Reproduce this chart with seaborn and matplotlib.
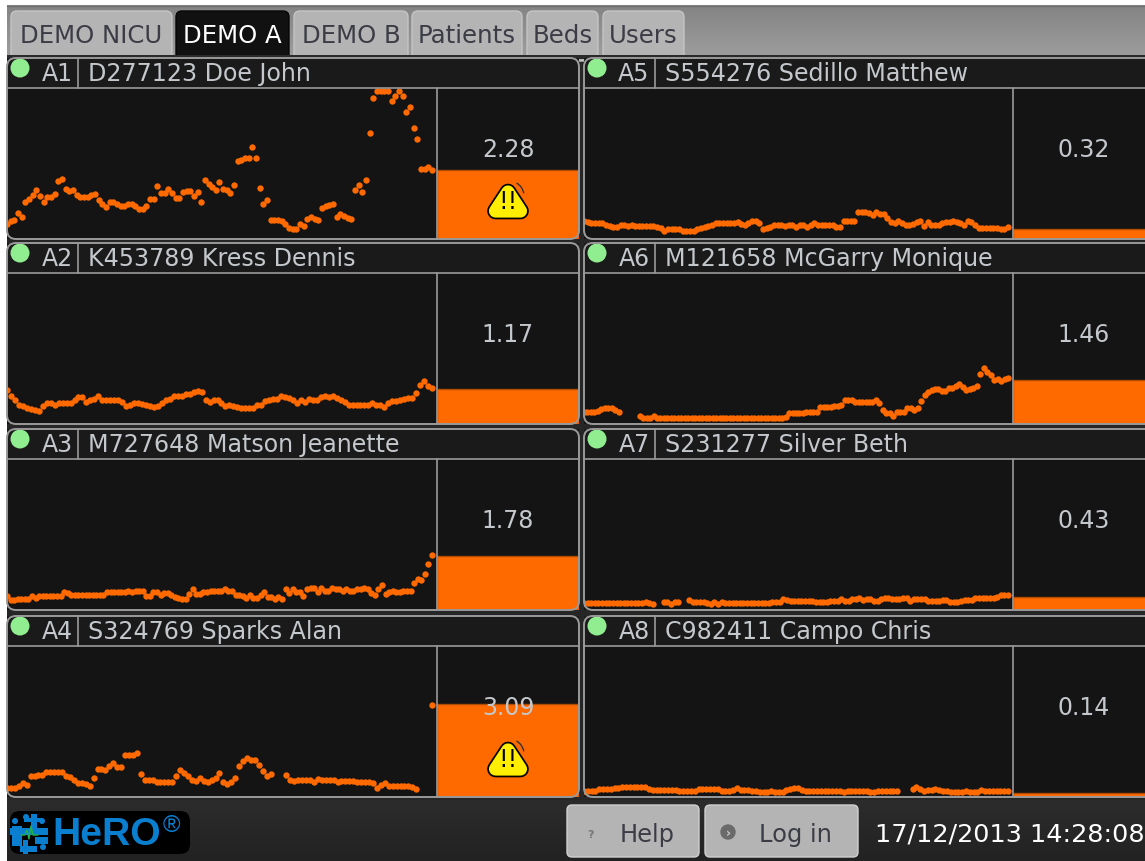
import numpy as np
import pandas as pd
import matplotlib
matplotlib.use('Agg')
import matplotlib.pyplot as plt
import seaborn as sns
from matplotlib.patches import FancyBboxPatch, Polygon, Circle, Arc, Rectangle

beds = ['A1', 'A2', 'A3', 'A4', 'A5', 'A6', 'A7', 'A8']
patients = ['D277123 Doe John', 'K453789 Kress Dennis', 'M727648 Matson Jeanette', 'S324769 Sparks Alan',
            'S554276 Sedillo Matthew', 'M121658 McGarry Monique', 'S231277 Silver Beth', 'C982411 Campo Chris']
scores = [2.28, 1.17, 1.78, 3.09, 0.32, 1.46, 0.43, 0.14]
tabs = ['DEMO NICU', 'DEMO A', 'DEMO B', 'Patients', 'Beds', 'Users']
clock = '17/12/2013 14:28:08'
alert_limit = 2.0

trend_a1 = [.50, .58, .63, .86, .74, 1.24, 1.32, 1.47, 1.61, 1.41, 1.21, 1.39, 1.39, 1.49, 1.91, 1.99, 1.66, 1.58, 1.61,
            1.47, 1.39, 1.38, 1.38, 1.47, 1.50, 1.30, 1.17, 1.06, 1.21, 1.24, 1.17, 1.10, 1.08, 1.17, 1.17, 1.10, .99,
            .99, 1.08, 1.32, 1.32, 1.74, 1.52, 1.52, 1.66, 1.52, 1.37, 1.37, 1.54, 1.58, 1.58, 1.41, 1.54, 1.21, 1.94,
            1.83, 1.72, 1.61, 1.90, 1.67, 1.61, 1.52, 1.79, 2.59, 2.61, 2.68, 2.68, 3.04, 2.67, 1.69, 1.17, 1.29, .63,
            .63, .63, .58, .49, .38, .32, .34, .50, .43, .67, .72, .67, .63, 1.02, 1.10, 1.13, 1.17, .72, .83, .77, .71,
            .67, 1.61, 1.78, 1.56, 1.97, 3.52, 4.68, 4.91, 4.91, 4.91, 4.91, 4.58, 4.72, 4.91, 4.72, 4.19, 4.36, 3.66,
            3.32, 2.33, 2.33, 2.38, 2.29]
trend_a2 = [1.14, .92, .81, .64, .59, .53, .50, .48, .44, .59, .68, .68, .62, .70, .70, .70, .70, .79, .89, .90, .72, .81,
            .84, .92, .79, .79, .79, .79, .79, .72, .61, .64, .70, .68, .66, .62, .61, .57, .59, .70, .81, .84, .92, .94,
            .94, 1.00, .98, 1.06, 1.09, 1.06, .79, .72, .79, .81, .68, .59, .64, .59, .57, .52, .52, .52, .53, .64, .64,
            .76, .79, .83, .83, .92, .90, .87, .79, .70, .81, .73, .83, .79, .79, .90, .92, .90, .92, .87, .81, .72, .62,
            .62, .62, .62, .62, .62, .68, .64, .62, .56, .70, .76, .76, .79, .83, .87, .87, 1.03, 1.28, 1.42, 1.26, 1.18]
trend_a3 = [.48, .33, .33, .37, .37, .37, .37, .46, .39, .46, .46, .46, .46, .46, .46, .46, .61, .57, .51, .51, .51, .51,
            .51, .51, .51, .51, .51, .51, .61, .61, .61, .61, .61, .61, .64, .59, .63, .63, .63, .46, .46, .61, .61, .51,
            .57, .57, .51, .42, .40, .37, .37, .53, .68, .53, .53, .59, .59, .64, .64, .64, .64, .68, .64, .64, .51, .51,
            .46, .40, .51, .40, .40, .51, .61, .42, .42, .37, .42, .37, .68, .57, .68, .59, .59, .46, .68, .72, .72, .61,
            .72, .63, .63, .72, .68, .68, .63, .68, .63, .63, .68, .68, .72, .68, .57, .51, .70, .83, .53, .59, .63, .59,
            .59, .63, .63, .63, .91, 1.03, .98, 1.20, 1.53, 1.81]
trend_a4 = [.31, .31, .31, .38, .46, .40, .71, .68, .73, .73, .84, .84, .84, .82, .82, .71, .66, .57, .48, .48, .43, .37,
            .64, .93, .93, .90, 1.01, 1.14, .98, .98, 1.39, 1.39, 1.39, 1.46, .77, .57, .57, .57, .49, .49, .49, .49, .49,
            .70, .90, .79, .68, .57, .54, .62, .53, .49, .57, .62, .79, .49, .43, .49, .64, 1.01, 1.18, 1.29, 1.21, 1.23,
            1.07, .87, .70, .76, None, None, None, .73, .57, .52, .57, .57, .57, .57, .49, .60, .57, .57, .57, .57, .49,
            .52, .52, .52, .54, .50, .50, .50, .50, .48, .31, .40, .46, .38, .38, .38, .38, .38, .38, .34, .27, None, None,
            None, 3.06]
trend_a5 = [.61, .57, .52, .52, .52, .52, .48, .43, .40, .40, .47, .47, .43, .48, .43, .43, .43, .43, .43, .43, .39, .36,
            .28, .32, .32, .32, .32, .28, .28, .28, .28, .32, .36, .39, .43, .48, .52, .52, .52, .52, .52, .52, .57, .50,
            .46, .52, .59, .61, .54, .32, .36, .39, .48, .48, .48, .43, .48, .48, .41, .46, .46, .41, .48, .52, .48, .48,
            .48, .48, .48, .41, .41, .59, .59, .59, .59, .90, .90, .90, .86, .80, .88, .83, .83, .69, .56, .52, .59, .54,
            .46, .46, .50, .57, .61, .43, .57, .48, .48, .48, .52, .56, .56, .60, .57, .54, .48, .61, .56, .48, .38, .38,
            .38, .38, .38, .38, .33, .34, .39]
trend_a6 = [.39, .39, .39, .39, .44, .50, .54, .54, .54, .47, .39, None, None, None, None, None, .28, .19, .19, .19, .26,
            .20, .20, .20, .20, .20, .20, .20, .20, .20, .20, .20, .20, .20, .20, .20, .20, .20, .20, .20, .20, .20, .20,
            .20, .20, .20, .20, .20, .20, .20, .20, .20, .20, .20, .20, .20, .20, .20, .24, .36, .36, .36, .36, .36, .40,
            .40, .40, .40, .56, .56, .56, .56, .60, .60, .64, .81, .78, .78, .72, .72, .72, .72, .72, .72, .78, .71, .48,
            .36, .36, .27, .39, .39, .39, .53, .53, .47, .52, .76, .97, 1.06, 1.11, 1.16, 1.16, 1.09, 1.09, 1.18, 1.18,
            1.26, 1.34, 1.22, 1.11, 1.17, 1.20, 1.26, 1.67, 1.84, 1.72, 1.62, 1.47, 1.50, 1.44, 1.50, 1.51]
trend_a7 = [.22, .22, .22, .22, .22, .22, .22, .22, .22, .22, .22, .22, .22, .22, .22, .22, .22, .27, .23, .21, None,
            None, .26, .26, .21, .26, .27, None, None, .32, .28, .28, .28, .28, .22, .20, .26, .20, .27, .22, .22, .22,
            .22, .22, .22, .22, .22, .22, .22, .22, .22, .22, .27, .27, .27, .37, .33, .31, .31, .31, .31, .31, .31, .31,
            .27, .27, .27, .27, .31, .31, .31, .36, .31, .31, .36, .36, .40, .32, .36, .36, .29, .29, .36, .41, .41, .36,
            .36, .36, .40, .40, .31, .37, .37, .37, .37, .29, .29, .29, .29, .32, .32, .28, .28, .28, .31, .34, .34, .34,
            .40, .40, .40, .40, .40, .40, .44, .50, .50, .50]
trend_a8 = [.20, .20, .20, .20, .26, .26, .26, .26, .29, .29, .32, .32, .32, .32, .32, .32, .32, .27, .24, .24, .24, .24,
            .24, .24, .24, .21, .21, .21, .21, .21, .26, .26, .26, .26, .26, .26, .21, .21, .21, .22, .29, .24, .24, .24,
            .21, .21, .16, .16, .16, .21, .17, .17, .18, .22, .27, .29, .29, .23, .21, .21, .21, .21, .21, .21, .21, .21,
            .21, .21, .18, .21, .21, .21, .21, .21, .21, .16, .16, .21, .21, .21, .21, .21, .21, None, None, None, .27,
            .32, .27, .19, .23, .23, .27, .24, .21, .21, .18, .18, .18, .18, .21, .18, .18, .18, .24, .20, .20, .20, .20,
            .20, .20, .20]
trends = [trend_a1, trend_a2, trend_a3, trend_a4, trend_a5, trend_a6, trend_a7, trend_a8]

W, H = 1145, 862
ORANGE = '#ff6a00'
PANEL_BG = '#141414'
EDGE = '#9a9a9a'
TEXT = '#c4c8cc'
rows = [59, 244, 430, 617]
cols = [(7, 437, 579), (584, 1013, 1155)]

sns.set_theme(style='white')
plt.rcParams['font.family'] = ['DejaVu Sans']


def pixel_axes(fig, x0, y0, x1, y1, zorder):
    return fig.add_axes([x0 / W, 1 - y1 / H, (x1 - x0) / W, (y1 - y0) / H], zorder=zorder)


def gradient(ax, x0, y0, x1, y1, top, bottom, clip=None):
    a = np.array(matplotlib.colors.to_rgb(top))
    b = np.array(matplotlib.colors.to_rgb(bottom))
    img = np.linspace(0, 1, 64)[:, None, None] * (b - a)[None, None, :] + a
    im = ax.imshow(img, extent=(x0, x1, y1, y0), aspect='auto', zorder=1)
    if clip is not None:
        im.set_clip_path(clip)


def rounded(ax, x0, y0, x1, y1, r, **kw):
    box = FancyBboxPatch((x0 + r, y0 + r), x1 - x0 - 2 * r, y1 - y0 - 2 * r,
                         boxstyle='round,pad=%f,rounding_size=%f' % (r, r), **kw)
    ax.add_patch(box)
    return box


def draw_chrome(ax):
    ax.add_patch(Rectangle((7, 6), W, H, color='#262626', lw=0, zorder=0))
    gradient(ax, 7, 6, W, 56, '#848484', '#9c9c9c')
    ax.plot([7, W], [6.5, 6.5], color='#707070', lw=1, zorder=2)
    gradient(ax, 7, 801, W, H, '#2c2c2c', '#222222')

    tab_edges = [(11, 172), (176, 289), (294, 408), (412, 522), (527, 598), (603, 684)]
    for name, (x0, x1) in zip(tabs, tab_edges):
        active = name == 'DEMO A'
        box = rounded(ax, x0, 12, x1, 62, 6, fc='#111111' if active else '#b4b4b4',
                      ec='#050505' if active else '#c4c4c4', lw=1, zorder=2)
        if not active:
            gradient(ax, x0, 12, x1, 58, '#b0b0b0', '#bcbcbc', clip=box)
        ax.text((x0 + x1) / 2, 36, name, ha='center', va='center', fontsize=17.6,
                color='white' if active else '#3c3c46', zorder=3)
    ax.add_patch(Rectangle((7, 56), W, 4, color='#2a2a2a', lw=0, zorder=4))

    # buttons and clock along the bottom
    for x0, x1, label, tx in [(567, 699, 'Help', 647), (705, 858, 'Log in', 795)]:
        box = rounded(ax, x0, 806, x1, 858, 5, fc='#b4b4b4', ec='#d0d0d0', lw=1, zorder=2)
        gradient(ax, x0, 806, x1, 858, '#c0c0c0', '#a6a6a6', clip=box)
        ax.text(tx, 835, label, ha='center', va='center', fontsize=17.4, color='#3c3c46', zorder=3)
    ax.text(591, 835, '?', ha='center', va='center', fontsize=8, weight='bold', color='#777777', zorder=3)
    ax.add_patch(Circle((728, 833), 7, color='#6a6a6a', zorder=3))
    ax.text(728, 833, '›', ha='center', va='center', fontsize=9, weight='bold', color='#c8c8c8', zorder=4)
    ax.text(875, 835, clock, ha='left', va='center', fontsize=18.35, color='white', zorder=3)

    # logo
    rounded(ax, 10, 812, 190, 855, 10, fc='black', ec='none', zorder=2)
    blue = '#0a7fd0'
    for x, y, w, h in [(10, 829, 38, 7), (31, 815, 6, 20), (12, 827, 10, 20), (20, 847, 17, 6), (23, 841, 5, 14),
                       (35, 838, 13, 7), (24, 819, 18, 4)]:
        ax.add_patch(Rectangle((x, y), w, h, color=blue, lw=0, zorder=3))
    for x, y in [(15, 822), (42, 822), (43, 848), (26, 818)]:
        ax.add_patch(Circle((x, y), 3, color=blue, lw=0, zorder=3))
    ax.plot([21, 25, 27, 29, 31, 33, 38], [836, 836, 831, 840, 827, 836, 836], color='#22b14c', lw=1, zorder=4)
    ax.text(52, 835, 'HeRO', ha='left', va='center', fontsize=28.2, color=blue, zorder=3,
            family='Liberation Sans', weight='bold')
    ax.text(171, 826, '®', ha='center', va='center', fontsize=17, color=blue, zorder=3, family='Liberation Sans')


def draw_warning(ax, cx, plot_top):
    pts = [(cx, plot_top + 104), (cx - 12.5, plot_top + 123), (cx + 12.5, plot_top + 123)]
    ax.add_patch(Polygon(pts, closed=True, fc='black', ec='black', lw=12, joinstyle='round', zorder=5))
    ax.add_patch(Polygon(pts, closed=True, fc='#ffee00', ec='#ffee00', lw=9.5, joinstyle='round', zorder=6))
    ax.add_patch(Arc((cx + 1, plot_top + 108), 30, 30, theta1=-60, theta2=-10, color='#333333', lw=1, zorder=6))
    ax.text(cx, plot_top + 113, '!!', ha='center', va='center', fontsize=17, color='black', zorder=7)


def draw_panel(fig, top_ax, i):
    x0, xdiv, x1 = cols[i // 4]
    y0 = rows[i % 4]
    plot_top = y0 + 30
    plot_bottom = plot_top + 151

    # trend
    ax = pixel_axes(fig, x0, plot_top, xdiv, plot_bottom, 1)
    values = pd.Series(trends[i], dtype=float)
    data = pd.DataFrame({'minute': np.arange(len(values)), 'score': values})
    sns.scatterplot(data=data, x='minute', y='score', color=ORANGE, s=21, linewidth=0, ax=ax, legend=False)
    ax.set_xlim(0, (len(values) - 1) * 429 / 424)
    ax.set_ylim(0, 5)
    ax.set_axis_off()
    ax.add_patch(Rectangle((0, 0), 1, 1, transform=ax.transAxes, color=PANEL_BG, zorder=0))

    # score bar
    bar = pixel_axes(fig, xdiv, plot_top, x1, plot_bottom, 1)
    sns.barplot(x=[beds[i]], y=[scores[i]], color=ORANGE, width=1, saturation=1, ax=bar,
                edgecolor='#b04c00', linewidth=1)
    bar.set_xlim(-0.5, 0.5)
    bar.set_ylim(0, 5)
    bar.set_axis_off()
    bar.add_patch(Rectangle((0, 0), 1, 1, transform=bar.transAxes, color=PANEL_BG, zorder=0))

    # header and frame
    bx = xdiv + 71
    top_ax.add_patch(Rectangle((x0, y0), x1 - x0, 30, color='#1a1a1a', lw=0, zorder=1))
    top_ax.add_patch(Circle((x0 + 13, y0 + 10), 9.5, color='#90ee90', lw=0, zorder=3))
    top_ax.text(x0 + 50, y0 + 15, beds[i], ha='center', va='center', fontsize=17, color=TEXT, zorder=3)
    top_ax.text(x0 + 81, y0 + 15, patients[i], ha='left', va='center', fontsize=17.1, color=TEXT, zorder=3)
    top_ax.text(bx, plot_top + 61, '%.2f' % scores[i], ha='center', va='center', fontsize=17, color=TEXT, zorder=8)
    top_ax.plot([x0, x1], [plot_top, plot_top], color=EDGE, lw=1.2, zorder=4)
    top_ax.plot([x0 + 71, x0 + 71], [y0, plot_top], color=EDGE, lw=1.2, zorder=4)
    top_ax.plot([xdiv, xdiv], [plot_top, plot_bottom], color=EDGE, lw=1.2, zorder=4)
    rounded(top_ax, x0, y0, x1, plot_bottom, 9, fc='none', ec=EDGE, lw=1.4, zorder=4)
    if scores[i] > alert_limit:
        draw_warning(top_ax, bx, plot_top)


if __name__ == '__main__':
    fig = plt.figure(figsize=(W / 100, H / 100), dpi=100, facecolor='white')

    back = pixel_axes(fig, 0, 0, W, H, 0)
    draw_chrome(back)
    back.set_xlim(0, W)
    back.set_ylim(H, 0)
    back.set_axis_off()

    over = pixel_axes(fig, 0, 0, W, H, 2)
    over.set_axis_off()
    over.patch.set_alpha(0)

    for i in range(8):
        draw_panel(fig, over, i)

    over.set_xlim(0, W)
    over.set_ylim(H, 0)
    fig.savefig('out.png', dpi=100)
